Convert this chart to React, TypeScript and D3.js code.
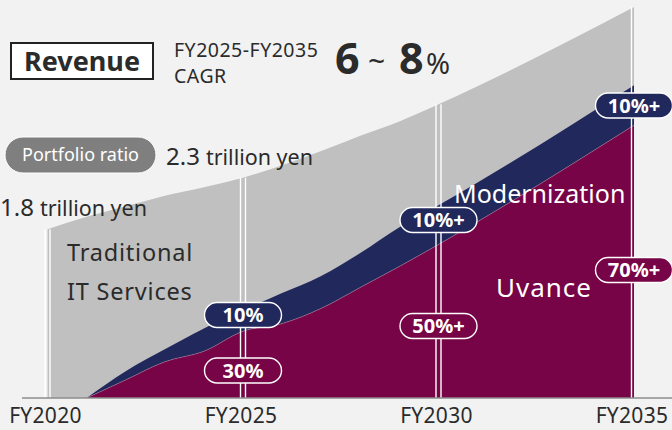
import React from "react";
import * as d3 from "d3";

// ---- data (trillion yen) ----
const totalYears = [2020, 2021, 2022, 2023, 2024, 2025, 2026, 2027, 2028, 2029, 2030, 2035];
const totalRevenue = [1.77, 1.9, 2.01, 2.12, 2.21, 2.31, 2.44, 2.59, 2.75, 2.9, 3.08, 4.1];

const segYears = [2021, 2022, 2023, 2024, 2025, 2026, 2027, 2028, 2029, 2030, 2035];
const uvance = [0, 0.19, 0.38, 0.49, 0.7, 0.78, 0.94, 1.16, 1.38, 1.61, 2.86];
const modernization = [0, 0.09, 0.13, 0.24, 0.22, 0.32, 0.34, 0.36, 0.41, 0.41, 0.42];

const tickYears = [2020, 2025, 2030, 2035];
const tickLabels = ["FY2020", "FY2025", "FY2030", "FY2035"];

const ratioYears = [2025, 2030, 2035];
const modernizationShare = ["10%", "10%+", "10%+"];
const uvanceShare = ["30%", "50%+", "70%+"];

const C = {
  bg: "#f2f2f2",
  gray: "#c0c0c0",
  navy: "#21295c",
  maroon: "#770446",
  text: "#2b2b2b",
  axis: "#8c8c8c",
  pill: "#7f7f7f",
};
const FONT = "'Noto Sans', sans-serif";

// layout
const W = 672, H = 430;
const baseY = 398;
const modPillY = [315, 220, 105.5];
const uvPillY = [370.5, 326, 270];

export default function App() {
  const x = d3.scaleLinear().domain([2020, 2035]).range([47.5, 634]);
  const y = d3.scaleLinear().domain([0, 4.1]).range([baseY, 7]);

  const totalData = totalYears.map((yr, i) => ({ yr, v: totalRevenue[i] }));
  const segData = segYears.map((yr, i) => ({ yr, u: uvance[i], m: uvance[i] + modernization[i] }));

  const grayArea = d3.area<any>().x(d => x(d.yr)).y0(baseY).y1(d => y(d.v)).curve(d3.curveMonotoneX)(totalData) as string;
  const navyArea = d3.area<any>().x(d => x(d.yr)).y0(d => y(d.u)).y1(d => y(d.m)).curve(d3.curveMonotoneX)(segData) as string;
  const maroonArea = d3.area<any>().x(d => x(d.yr)).y0(baseY).y1(d => y(d.u)).curve(d3.curveMonotoneX)(segData) as string;
  const maroonTop = d3.line<any>().x(d => x(d.yr)).y(d => y(d.u)).curve(d3.curveMonotoneX)(segData) as string;

  const totalAt = (yr: number) => totalRevenue[totalYears.indexOf(yr)];

  const pill = (cx: number, cy: number, label: string, fill: string, key: string) => (
    <g key={key}>
      <rect x={cx - 38.5} y={cy - 12.5} width={77} height={25} rx={12.5} fill={fill} stroke="#ffffff" strokeWidth={1.4} />
      <text x={cx} y={cy + 7} textAnchor="middle" fontFamily={FONT} fontWeight={700} fontSize={20} fill="#ffffff">{label}</text>
    </g>
  );

  return (
    <svg width={W} height={H} style={{ position: "absolute", left: 0, top: 0, display: "block" }} fontFamily={FONT}>
      <rect x={0} y={0} width={W} height={H} fill={C.bg} />

      {/* areas */}
      <path d={grayArea} fill={C.gray} />
      <path d={navyArea} fill={C.navy} />
      <path d={maroonArea} fill={C.maroon} />
      <path d={maroonTop} fill="none" stroke="rgba(255,255,255,0.35)" strokeWidth={0.7} />

      {/* year markers */}
      {tickYears.map(yr => {
        const top = y(totalAt(yr));
        const cx = x(yr);
        return (
          <g key={"m" + yr}>
            <line x1={cx - 2.5} x2={cx - 2.5} y1={top} y2={baseY} stroke="#ffffff" strokeWidth={1.4} />
            {yr !== 2035 && <line x1={cx + 2.5} x2={cx + 2.5} y1={top} y2={baseY} stroke="#ffffff" strokeWidth={1.4} />}
          </g>
        );
      })}

      {/* axis */}
      <line x1={22} x2={W} y1={baseY} y2={baseY} stroke={C.axis} strokeWidth={1.6} />
      {tickYears.map((yr, i) => (
        <text key={"t" + yr} x={x(yr) - 2} y={423} textAnchor="middle" fontSize={21} letterSpacing={0.3} fill={C.text}>{tickLabels[i]}</text>
      ))}

      {/* header */}
      <rect x={11} y={43} width={142} height={36} fill="#ffffff" stroke="#222" strokeWidth={2} />
      <text x={82} y={71} textAnchor="middle" fontSize={27} fontWeight={700} fill={C.text}>Revenue</text>
      <text x={174} y={57} fontSize={19.5} letterSpacing={0.5} fill={C.text}>FY2025-FY2035</text>
      <text x={174} y={83} fontSize={19.5} letterSpacing={0.5} fill={C.text}>CAGR</text>
      <text x={335} y={74} fontSize={43} fontWeight={700} fill={C.text}>6</text>
      <text x={368} y={72} fontSize={30} fill={C.text}>~</text>
      <text x={399} y={74} fontSize={43} fontWeight={700} fill={C.text}>8</text>
      <text x={426} y={74} fontSize={29} fill={C.text}>%</text>

      {/* portfolio ratio pill */}
      <rect x={5} y={137} width={151} height={36} rx={18} fill={C.pill} stroke="#ffffff" strokeWidth={1} />
      <text x={80.5} y={161} textAnchor="middle" fontSize={18} fill="#ffffff">Portfolio ratio</text>

      {/* revenue amounts */}
      <text x={0} y={216} fill={C.text}>
        <tspan fontSize={24}>1.8</tspan>
        <tspan fontSize={21.5} dx={6}>trillion yen</tspan>
      </text>
      <text x={166} y={165} fill={C.text}>
        <tspan fontSize={24}>2.3</tspan>
        <tspan fontSize={21.5} dx={6}>trillion yen</tspan>
      </text>

      {/* area labels */}
      <text x={67} y={261} fontSize={23.5} letterSpacing={0.8} fill={C.text}>Traditional</text>
      <text x={67} y={300} fontSize={23.5} letterSpacing={0.8} fill={C.text}>IT Services</text>
      <text x={454} y={203} fontSize={25} fill="#ffffff">Modernization</text>
      <text x={496} y={297} fontSize={26} letterSpacing={1} fill="#ffffff">Uvance</text>

      {/* ratio pills */}
      {ratioYears.map((yr, i) => pill(x(yr), modPillY[i], modernizationShare[i], C.navy, "mp" + yr))}
      {ratioYears.map((yr, i) => pill(x(yr), uvPillY[i], uvanceShare[i], C.maroon, "up" + yr))}
    </svg>
  );
}
